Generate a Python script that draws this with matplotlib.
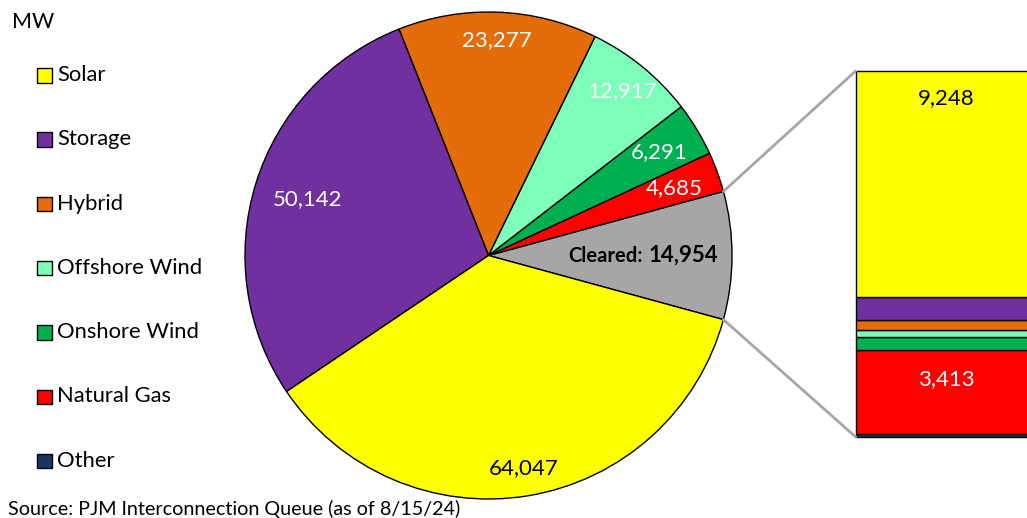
import matplotlib.pyplot as plt
from matplotlib.patches import Rectangle, ConnectionPatch
import numpy as np

plt.rcParams['font.family'] = ['Lato', 'DejaVu Sans']

# pie data (MW), counterclockwise starting with the cleared slice
pie_labels = ['Cleared', 'Natural Gas', 'Onshore Wind', 'Offshore Wind', 'Hybrid', 'Storage', 'Solar']
pie_values = [14954, 4685, 6291, 12917, 23277, 50142, 64047]

# breakdown of the cleared projects, bottom to top
bar_labels = ['Other', 'Natural Gas', 'Onshore Wind', 'Offshore Wind', 'Hybrid', 'Storage', 'Solar']
bar_values = [123, 3413, 540, 310, 400, 920, 9248]

legend_labels = ['Solar', 'Storage', 'Hybrid', 'Offshore Wind', 'Onshore Wind', 'Natural Gas', 'Other']

colors = {
    'Solar': '#FFFF00',
    'Storage': '#7030A0',
    'Hybrid': '#E46C0A',
    'Offshore Wind': '#7DFFBA',
    'Onshore Wind': '#00B050',
    'Natural Gas': '#FF0000',
    'Other': '#17375E',
    'Cleared': '#A6A6A6',
}

W, H = 1027, 518
fig = plt.figure(figsize=(W / 100, H / 100), dpi=100)

# --- pie, drawn in pixel-like coordinates ---
ax = fig.add_axes([0, 0, 1, 1])
cx, cy, r = 488.5, 262.5, 243.5
start = -pie_values[0] / sum(pie_values) * 180
wedges, _ = ax.pie(pie_values, colors=[colors[k] for k in pie_labels], startangle=start,
                   counterclock=True, center=(cx, cy), radius=r,
                   wedgeprops=dict(edgecolor='black', linewidth=1))
ax.set_xlim(0, W)
ax.set_ylim(0, H)
ax.set_aspect('auto')
ax.axis('off')

# label distance (fraction of radius) and text colour per slice
label_dist = [0.65, 0.81, 0.82, 0.87, 0.886, 0.78, 0.886]
label_color = ['black', 'white', 'white', 'white', 'white', 'white', 'black']
for w, name, val, d, c in zip(wedges, pie_labels, pie_values, label_dist, label_color):
    mid = np.deg2rad((w.theta1 + w.theta2) / 2)
    x, y = cx + d * r * np.cos(mid), cy + d * r * np.sin(mid)
    if name == 'Cleared':
        ax.text(x - 4, y, 'Cleared:', ha='right', va='center', fontsize=14.5,
                fontweight='bold', color=c)
        ax.text(x + 2, y, f'{val:,}', ha='left', va='center', fontsize=16,
                fontweight='bold', color=c)
    else:
        ax.text(x, y, f'{val:,}', ha='center', va='center', fontsize=16, color=c)

# --- stacked bar of cleared projects ---
axb = fig.add_axes([855.7 / W, (H - 437) / H, 182 / W, 366 / H])
bottom = 0
for name, val in zip(bar_labels, bar_values):
    axb.bar(0.5, val, width=1, bottom=bottom, color=colors[name],
            edgecolor='black', linewidth=1, clip_on=False)
    if name == 'Solar':
        axb.text(0.5, bottom + val * 0.88, f'{val:,}', ha='center', va='center',
                 fontsize=16, color='black')
    if name == 'Natural Gas':
        axb.text(0.5, bottom + val * 0.66, f'{val:,}', ha='center', va='center',
                 fontsize=16, color='white')
    bottom += val
axb.set_xlim(0, 1)
axb.set_ylim(0, sum(bar_values))
axb.axis('off')

# connector lines from the cleared slice to the bar
cw = wedges[0]
for ang, yb in [(cw.theta2, sum(bar_values)), (cw.theta1, 0)]:
    a = np.deg2rad(ang)
    con = ConnectionPatch(xyA=(cx + r * np.cos(a), cy + r * np.sin(a)), coordsA=ax.transData,
                          xyB=(0, yb), coordsB=axb.transData,
                          color='#A6A6A6', linewidth=2)
    fig.add_artist(con)

# --- legend ---
fig.text(12 / W, 1 - 22 / H, 'MW', ha='left', va='center', fontsize=15.5)
for i, name in enumerate(legend_labels):
    yc = 1 - (75 + i * 64.3) / H
    fig.add_artist(Rectangle((37 / W, yc - 7.5 / H), 14.5 / W, 14.5 / H,
                             transform=fig.transFigure, facecolor=colors[name],
                             edgecolor='black', linewidth=1))
    fig.text(57 / W, yc, name, ha='left', va='center', fontsize=15.8)

fig.text(8 / W, 1 - 509 / H, 'Source: PJM Interconnection Queue (as of 8/15/24)',
         ha='left', va='center', fontsize=14.2)

plt.savefig('out.png', dpi=100)
